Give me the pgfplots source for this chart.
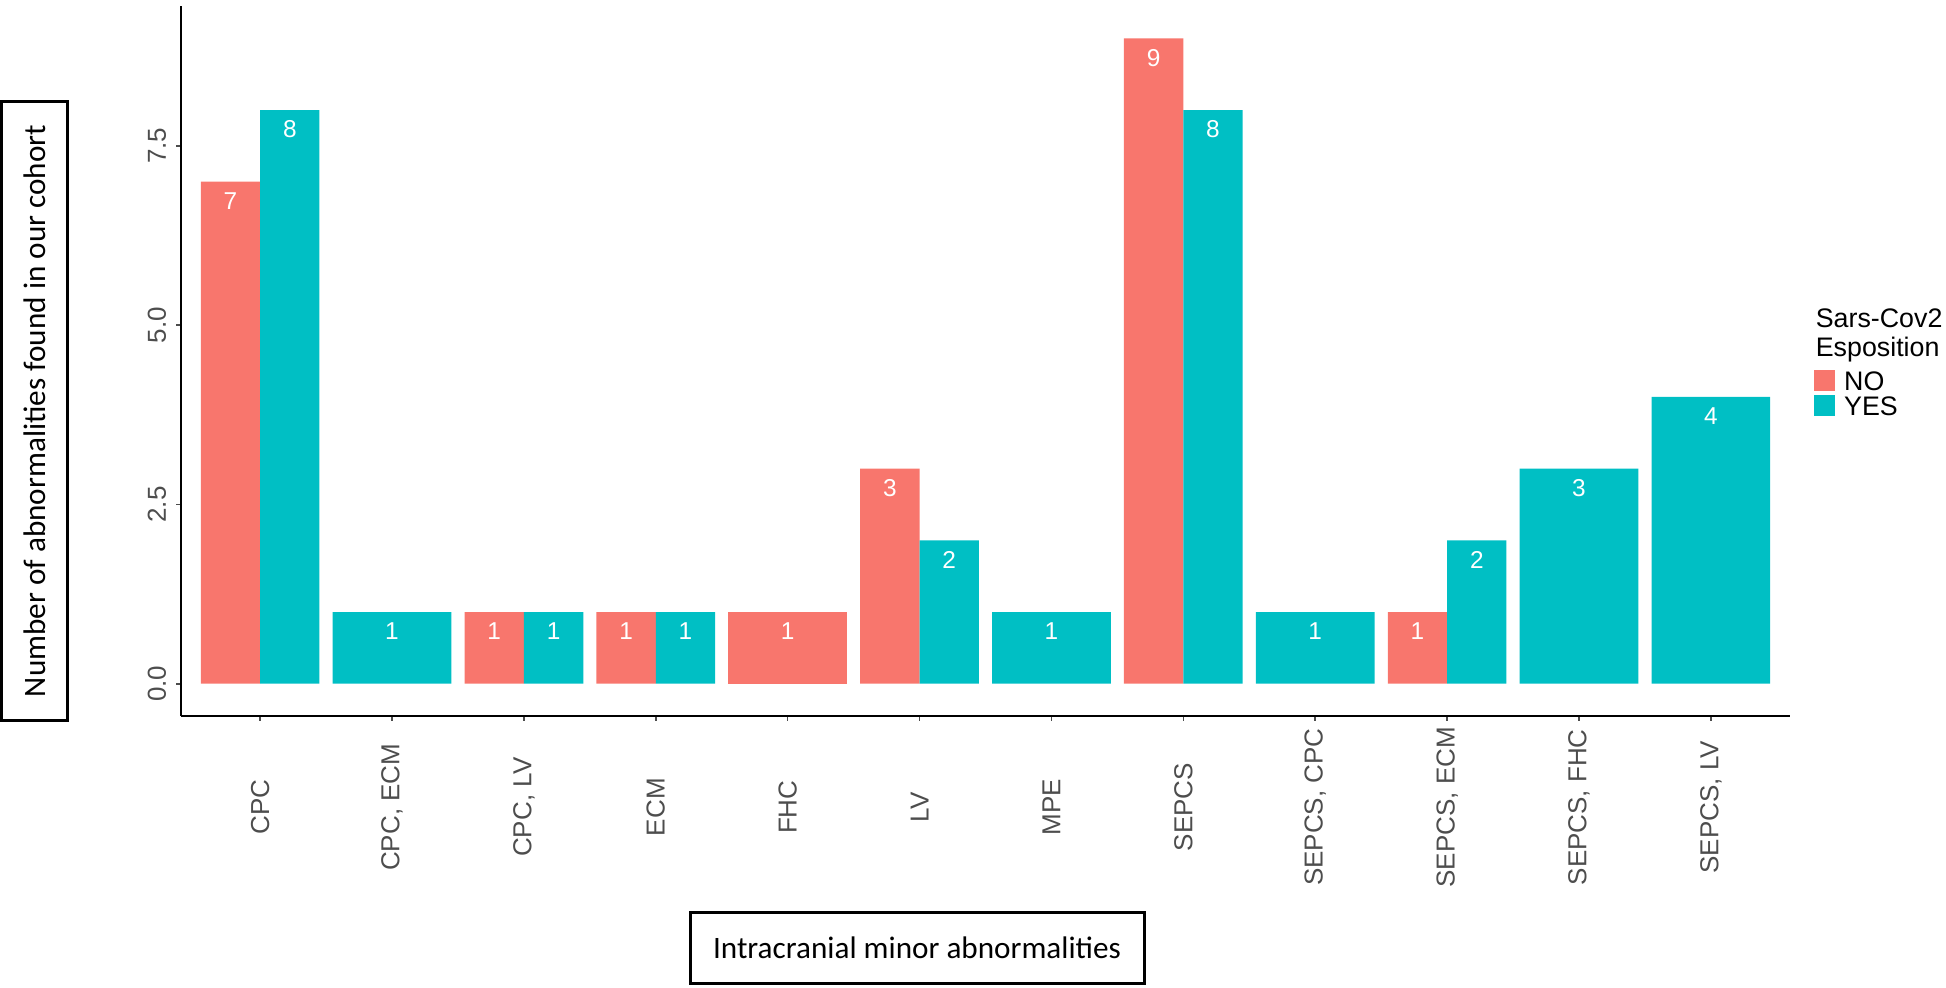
\documentclass[border=0pt]{standalone}
\usepackage{pgfplots}
\pgfplotsset{compat=1.18}
\usepackage{fontspec}
\setmainfont{Liberation Sans}
\newfontfamily\carlito{Carlito}
\definecolor{cno}{HTML}{F8766D}
\definecolor{cyes}{HTML}{00BFC4}
\definecolor{tickgray}{HTML}{4D4D4D}
\begin{document}
\begin{tikzpicture}
\useasboundingbox (-45.25pt,-67.75pt) rectangle (441.25pt,179pt);
\begin{axis}[
  scale only axis, width=402.25pt, height=177.5pt,
  at={(0pt,0pt)}, anchor=south west,
  xmin=0.4, xmax=12.6, ymin=-0.45, ymax=9.45,
  axis x line*=bottom, axis y line*=left,
  axis line style={black, line width=0.5pt},
  xtick={1,2,3,4,5,6,7,8,9,10,11,12},
  xticklabels={CPC,{CPC, ECM},{CPC, LV},ECM,FHC,LV,MPE,SEPCS,{SEPCS, CPC},{SEPCS, ECM},{SEPCS, FHC},{SEPCS, LV}},
  ytick={0,2.5,5,7.5}, yticklabels={0.0,2.5,5.0,7.5},
  tick align=outside, major tick length=1.2pt,
  tick style={color=black!70, line width=0.4pt},
  xticklabel style={font=\fontsize{6.5}{7}\selectfont, color=tickgray, yshift=-21.6pt, rotate=90, anchor=center},
  yticklabel style={font=\fontsize{6.5}{7}\selectfont, color=tickgray, xshift=-4.8pt, rotate=90, anchor=center},
  /pgf/number format/assume math mode=true,
  legend style={at={(1.0145,0.490)}, anchor=north west, draw=none, fill=none, inner sep=0pt,
    font=\fontsize{6.7}{7}\selectfont, row sep=0.3pt, column sep=1.8pt,
    nodes={inner sep=0.5pt, text height=4.9pt, text depth=0pt}},
  legend cell align=left,
  legend image code/.code={\fill[#1] (0pt,-2.65pt) rectangle (5.2pt,2.65pt);},
  every node near coord/.append style={white, font=\fontsize{6.1}{7}\selectfont, anchor=north, inner sep=0pt, yshift=-2.5pt},
]
% NO, dodged (left half of the category)
\addplot[ybar, bar width=0.45, bar shift=0pt, fill=cno, draw=none, nodes near coords]
  coordinates {(0.775,7) (2.775,1) (3.775,1) (5.775,3) (7.775,9) (9.775,1)};
\addlegendentry{NO}
% YES, dodged (right half of the category)
\addplot[ybar, bar width=0.45, bar shift=0pt, fill=cyes, draw=none, nodes near coords]
  coordinates {(1.225,8) (3.225,1) (4.225,1) (6.225,2) (8.225,8) (10.225,2)};
\addlegendentry{YES}
% single-group categories (full width)
\addplot[ybar, bar width=0.9, bar shift=0pt, fill=cno, draw=none, nodes near coords, forget plot]
  coordinates {(5,1)};
\addplot[ybar, bar width=0.9, bar shift=0pt, fill=cyes, draw=none, nodes near coords, forget plot]
  coordinates {(2,1) (7,1) (9,1) (11,3) (12,4)};
\end{axis}
\node[anchor=base west, inner sep=0pt, font=\fontsize{6.7}{7}\selectfont] at (408.5pt,97.25pt) {Sars-Cov2};
\node[anchor=base west, inner sep=0pt, font=\fontsize{6.7}{7}\selectfont] at (408.5pt,90pt) {Esposition};
\node[draw, line width=0.75pt, rotate=90, minimum width=154.5pt, minimum height=16.5pt, inner sep=0pt,
  font=\carlito\fontsize{7.8}{9}\selectfont] at (-36.5pt,76.25pt) {Number of abnormalities found in our cohort};
\node[draw, line width=0.75pt, minimum width=113.5pt, minimum height=17.75pt, inner sep=0pt,
  font=\carlito\fontsize{7.8}{9}\selectfont] at (184pt,-57.9pt) {Intracranial minor abnormalities};
\end{tikzpicture}
\end{document}
